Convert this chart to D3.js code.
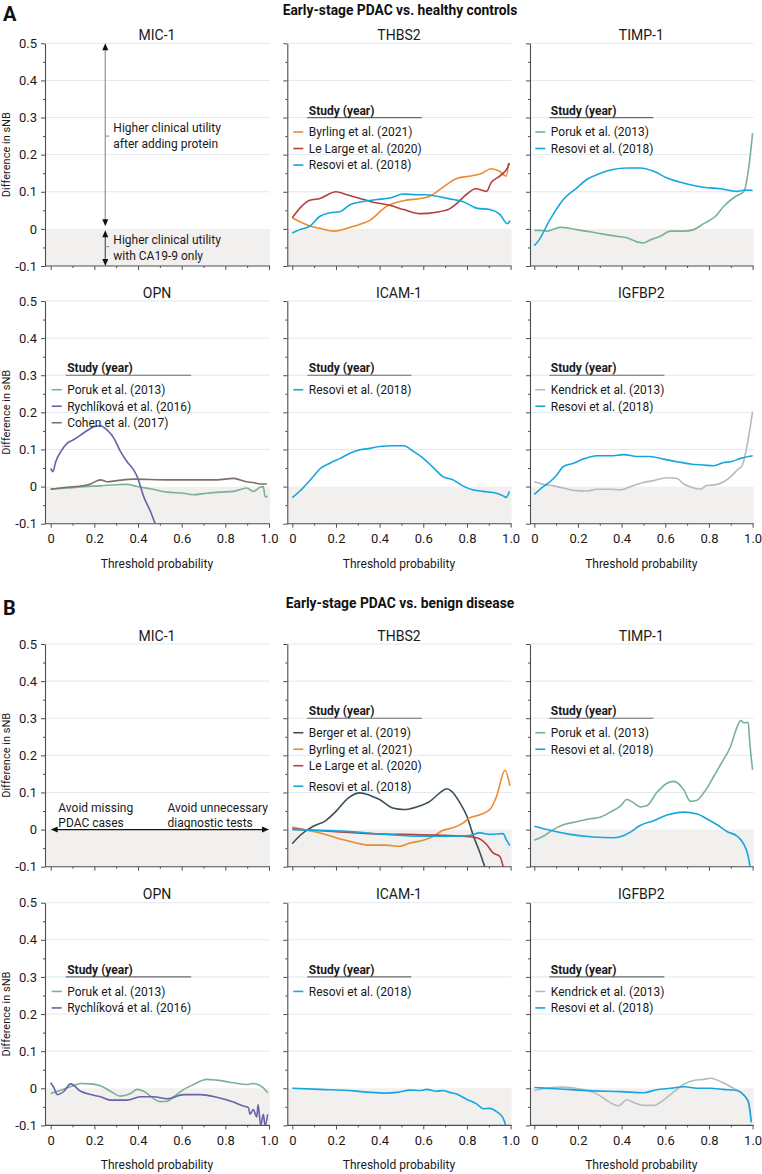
<!DOCTYPE html>
<html><head><meta charset="utf-8">
<script src="https://cdn.jsdelivr.net/npm/d3@7"></script>
<style>
body{margin:0;background:#fff;}
svg{display:block;font-family:Roboto,'Noto Sans',sans-serif;}
</style>
</head><body>
<svg id="chart" width="762" height="1174"></svg>
<script>
// ---------- tick labels ----------
const yTickValues = [-0.1, 0, 0.1, 0.2, 0.3, 0.4, 0.5];
const yTickLabels = ["-0.1", "0", "0.1", "0.2", "0.3", "0.4", "0.5"];
const xTickValues = [0, 0.2, 0.4, 0.6, 0.8, 1.0];
const xTickLabels = ["0", "0.2", "0.4", "0.6", "0.8", "1.0"];
const yMinorValues = [-0.05, 0.05, 0.15, 0.25, 0.35, 0.45];
const xMinorValues = [0.1, 0.3, 0.5, 0.7, 0.9];

// ---------- panel A: early-stage PDAC vs healthy controls ----------
const thbs2A_byrling = [[0,0.03],[0.04,0.018],[0.08,0.008],[0.13,0.001],[0.19,-0.006],[0.28,0.007],[0.36,0.025],[0.43,0.06],[0.51,0.076],[0.6,0.083],[0.63,0.088],[0.69,0.112],[0.75,0.135],[0.81,0.142],[0.87,0.15],[0.91,0.162],[0.95,0.155],[0.98,0.142],[0.99,0.177]];
const thbs2A_lelarge = [[0,0.03],[0.035,0.056],[0.08,0.077],[0.127,0.082],[0.2,0.1],[0.25,0.092],[0.31,0.082],[0.356,0.074],[0.45,0.063],[0.51,0.052],[0.585,0.041],[0.66,0.045],[0.72,0.054],[0.75,0.067],[0.8,0.094],[0.84,0.108],[0.89,0.101],[0.91,0.124],[0.95,0.142],[0.985,0.164],[0.995,0.177]];
const thbs2A_resovi = [[0,-0.011],[0.035,-0.002],[0.08,0.007],[0.127,0.034],[0.17,0.043],[0.22,0.047],[0.264,0.065],[0.325,0.074],[0.386,0.079],[0.447,0.083],[0.508,0.094],[0.57,0.092],[0.615,0.092],[0.66,0.088],[0.737,0.079],[0.78,0.074],[0.844,0.056],[0.905,0.052],[0.951,0.039],[0.985,0.014],[0.997,0.022]];
const timp1A_poruk = [[0,-0.004],[0.026,-0.004],[0.057,-0.006],[0.118,0.004],[0.194,-0.002],[0.286,-0.011],[0.378,-0.02],[0.424,-0.024],[0.47,-0.035],[0.5,-0.038],[0.53,-0.03],[0.577,-0.02],[0.623,-0.006],[0.686,-0.006],[0.73,-0.002],[0.776,0.014],[0.83,0.034],[0.868,0.061],[0.923,0.088],[0.96,0.101],[0.983,0.168],[1.0,0.258]];
const timp1A_resovi = [[0,-0.045],[0.018,-0.033],[0.072,0.025],[0.133,0.079],[0.194,0.11],[0.24,0.133],[0.3,0.149],[0.36,0.16],[0.424,0.164],[0.485,0.164],[0.547,0.155],[0.608,0.137],[0.7,0.121],[0.776,0.112],[0.853,0.108],[0.93,0.101],[0.96,0.104],[1.0,0.104]];
const opnA_poruk = [[0,-0.007],[0.076,-0.004],[0.152,0],[0.228,0.002],[0.304,0.005],[0.35,0.006],[0.396,0],[0.457,-0.006],[0.533,-0.015],[0.61,-0.018],[0.654,-0.022],[0.715,-0.018],[0.776,-0.015],[0.837,-0.013],[0.898,-0.004],[0.928,-0.013],[0.959,-0.002],[0.974,0],[0.982,-0.027],[0.994,-0.027]];
const opnA_rychlikova = [[0,0.049],[0.01,0.04],[0.023,0.067],[0.046,0.094],[0.076,0.117],[0.107,0.127],[0.152,0.145],[0.198,0.161],[0.228,0.164],[0.259,0.152],[0.29,0.13],[0.32,0.094],[0.35,0.067],[0.38,0.045],[0.396,0.027],[0.426,-0.027],[0.457,-0.067],[0.479,-0.101],[0.49,-0.12]];
const opnA_cohen = [[0,-0.007],[0.076,-0.002],[0.152,0.003],[0.183,0.007],[0.213,0.016],[0.228,0.018],[0.259,0.013],[0.304,0.016],[0.38,0.02],[0.533,0.018],[0.685,0.018],[0.76,0.018],[0.837,0.022],[0.868,0.018],[0.898,0.013],[0.928,0.011],[0.959,0.007],[0.974,0.007],[0.99,0.007]];
const icam1A_resovi = [[0,-0.03],[0.035,-0.012],[0.066,0.007],[0.096,0.027],[0.127,0.048],[0.172,0.063],[0.219,0.076],[0.264,0.09],[0.31,0.099],[0.356,0.103],[0.4,0.108],[0.46,0.11],[0.51,0.11],[0.557,0.094],[0.6,0.076],[0.646,0.051],[0.69,0.027],[0.737,0.018],[0.78,0.002],[0.83,-0.009],[0.875,-0.013],[0.936,-0.018],[0.966,-0.025],[0.98,-0.029],[0.994,-0.013]];
const igfbp2A_kendrick = [[0,0.013],[0.041,0.006],[0.087,0.002],[0.133,-0.004],[0.194,-0.011],[0.24,-0.012],[0.286,-0.007],[0.348,-0.007],[0.394,-0.009],[0.455,0.003],[0.5,0.011],[0.547,0.016],[0.608,0.024],[0.654,0.022],[0.685,0.007],[0.73,-0.004],[0.76,-0.007],[0.79,0.003],[0.82,0.004],[0.868,0.013],[0.9,0.027],[0.93,0.045],[0.953,0.058],[0.975,0.112],[1.0,0.202]];
const igfbp2A_resovi = [[0,-0.021],[0.041,0],[0.072,0.013],[0.103,0.031],[0.133,0.054],[0.18,0.063],[0.225,0.074],[0.286,0.083],[0.348,0.083],[0.41,0.086],[0.47,0.081],[0.53,0.081],[0.593,0.074],[0.654,0.067],[0.715,0.061],[0.776,0.058],[0.822,0.056],[0.868,0.065],[0.9,0.067],[0.945,0.076],[1.0,0.083]];

// ---------- panel B: early-stage PDAC vs benign disease ----------
const thbs2B_berger = [[0,-0.038],[0.035,-0.016],[0.096,0.009],[0.15,0.023],[0.2,0.049],[0.256,0.085],[0.31,0.099],[0.356,0.092],[0.4,0.081],[0.46,0.058],[0.51,0.054],[0.57,0.061],[0.63,0.076],[0.676,0.099],[0.707,0.11],[0.73,0.103],[0.768,0.072],[0.8,0.036],[0.83,-0.018],[0.86,-0.063],[0.882,-0.1],[0.89,-0.11]];
const thbs2B_byrling = [[0,0.007],[0.05,0],[0.127,-0.009],[0.2,-0.022],[0.28,-0.034],[0.356,-0.042],[0.43,-0.042],[0.49,-0.045],[0.54,-0.036],[0.6,-0.029],[0.646,-0.018],[0.69,-0.002],[0.737,0.005],[0.783,0.018],[0.81,0.031],[0.86,0.04],[0.905,0.054],[0.936,0.09],[0.974,0.16],[0.997,0.118]];
const thbs2B_lelarge = [[0,0.002],[0.096,-0.002],[0.2,-0.006],[0.356,-0.011],[0.51,-0.013],[0.66,-0.015],[0.783,-0.018],[0.844,-0.022],[0.89,-0.04],[0.92,-0.063],[0.95,-0.072],[0.966,-0.1],[0.97,-0.11]];
const thbs2B_resovi = [[0,0],[0.127,-0.002],[0.28,-0.006],[0.43,-0.013],[0.585,-0.018],[0.737,-0.018],[0.81,-0.016],[0.86,-0.009],[0.905,-0.013],[0.966,-0.011],[0.98,-0.027],[0.997,-0.043]];
const timp1B_poruk = [[0,-0.029],[0.041,-0.018],[0.087,0],[0.133,0.013],[0.194,0.021],[0.256,0.029],[0.3,0.033],[0.348,0.047],[0.394,0.063],[0.424,0.081],[0.455,0.072],[0.485,0.061],[0.515,0.064],[0.56,0.099],[0.608,0.125],[0.64,0.13],[0.685,0.107],[0.715,0.076],[0.746,0.079],[0.776,0.099],[0.822,0.143],[0.853,0.175],[0.899,0.224],[0.93,0.278],[0.945,0.294],[0.96,0.288],[0.98,0.289],[0.986,0.242],[1.0,0.161]];
const timp1B_resovi = [[0,0.009],[0.072,-0.002],[0.164,-0.013],[0.27,-0.02],[0.363,-0.022],[0.41,-0.016],[0.44,-0.007],[0.485,0.011],[0.547,0.024],[0.608,0.039],[0.685,0.047],[0.746,0.042],[0.79,0.029],[0.838,0.013],[0.884,-0.006],[0.93,-0.018],[0.96,-0.04],[0.98,-0.072],[0.988,-0.1],[0.99,-0.11]];
const opnB_poruk = [[0,-0.014],[0.046,-0.005],[0.091,0.004],[0.137,0.013],[0.183,0.012],[0.228,0.007],[0.274,-0.008],[0.32,-0.021],[0.365,-0.014],[0.396,-0.003],[0.426,-0.008],[0.472,-0.028],[0.5,-0.036],[0.533,-0.035],[0.563,-0.023],[0.61,-0.003],[0.654,0.01],[0.715,0.024],[0.76,0.022],[0.837,0.015],[0.898,0.01],[0.928,0.013],[0.974,0.001],[0.994,-0.012]];
const opnB_rychlikova = [[0,0.015],[0.015,0.001],[0.03,-0.017],[0.061,-0.008],[0.091,0.012],[0.137,-0.008],[0.183,-0.017],[0.228,-0.023],[0.274,-0.032],[0.35,-0.032],[0.41,-0.023],[0.472,-0.023],[0.533,-0.028],[0.61,-0.017],[0.685,-0.017],[0.76,-0.024],[0.837,-0.037],[0.883,-0.048],[0.906,-0.052],[0.913,-0.07],[0.928,-0.057],[0.944,-0.077],[0.95,-0.044],[0.962,-0.1],[0.974,-0.07],[0.982,-0.1],[0.994,-0.07]];
const icam1B_resovi = [[0,0],[0.127,-0.003],[0.28,-0.007],[0.356,-0.011],[0.43,-0.013],[0.48,-0.011],[0.54,-0.005],[0.585,-0.006],[0.615,-0.003],[0.66,-0.008],[0.69,-0.006],[0.72,-0.011],[0.75,-0.015],[0.8,-0.03],[0.844,-0.042],[0.875,-0.055],[0.905,-0.054],[0.936,-0.063],[0.966,-0.081],[0.977,-0.1],[0.98,-0.11]];
const igfbp2B_kendrick = [[0,-0.006],[0.057,0],[0.133,0.003],[0.225,-0.004],[0.286,-0.015],[0.33,-0.032],[0.386,-0.047],[0.424,-0.031],[0.455,-0.038],[0.5,-0.046],[0.547,-0.046],[0.593,-0.031],[0.64,-0.009],[0.685,0.011],[0.73,0.021],[0.776,0.024],[0.807,0.027],[0.853,0.018],[0.9,0.004],[0.945,-0.012],[0.976,-0.031],[0.994,-0.09]];
const igfbp2B_resovi = [[0,0.002],[0.118,-0.002],[0.27,-0.007],[0.394,-0.009],[0.5,-0.012],[0.56,-0.004],[0.623,0],[0.685,0.004],[0.746,0],[0.807,0],[0.868,-0.003],[0.93,-0.006],[0.96,-0.018],[0.983,-0.04],[0.994,-0.092]];

// ---------- studies / colours ----------
const studyNames = {
  berger: "Berger et al. (2019)", byrling: "Byrling et al. (2021)", lelarge: "Le Large et al. (2020)",
  resovi: "Resovi et al. (2018)", poruk: "Poruk et al. (2013)", rychlikova: "Rychlíková et al. (2016)",
  cohen: "Cohen et al. (2017)", kendrick: "Kendrick et al. (2013)"
};
const studyColors = {
  berger: "#3b4f56", byrling: "#eb8b30", lelarge: "#b3403c", resovi: "#14a6de",
  poruk: "#78b296", rychlikova: "#6a61a8", cohen: "#7d6f69", kendrick: "#b7bbbc"
};

const sectionLetters = ["A", "B"];
const sectionTitles = ["Early-stage PDAC vs. healthy controls", "Early-stage PDAC vs. benign disease"];

const panels = [
  {row:0, col:0, title:"MIC-1", series:[]},
  {row:0, col:1, title:"THBS2", series:[["byrling",thbs2A_byrling],["lelarge",thbs2A_lelarge],["resovi",thbs2A_resovi]]},
  {row:0, col:2, title:"TIMP-1", series:[["poruk",timp1A_poruk],["resovi",timp1A_resovi]]},
  {row:1, col:0, title:"OPN", series:[["poruk",opnA_poruk],["rychlikova",opnA_rychlikova],["cohen",opnA_cohen]]},
  {row:1, col:1, title:"ICAM-1", series:[["resovi",icam1A_resovi]]},
  {row:1, col:2, title:"IGFBP2", series:[["kendrick",igfbp2A_kendrick],["resovi",igfbp2A_resovi]]},
  {row:2, col:0, title:"MIC-1", series:[]},
  {row:2, col:1, title:"THBS2", series:[["berger",thbs2B_berger],["byrling",thbs2B_byrling],["lelarge",thbs2B_lelarge],["resovi",thbs2B_resovi]], extraGap:[0,0,0,4]},
  {row:2, col:2, title:"TIMP-1", series:[["poruk",timp1B_poruk],["resovi",timp1B_resovi]]},
  {row:3, col:0, title:"OPN", series:[["poruk",opnB_poruk],["rychlikova",opnB_rychlikova]]},
  {row:3, col:1, title:"ICAM-1", series:[["resovi",icam1B_resovi]]},
  {row:3, col:2, title:"IGFBP2", series:[["kendrick",igfbp2B_kendrick],["resovi",igfbp2B_resovi]]}
];

// ---------- layout ----------
const colLeft = [45, 287.3, 530];
const colX0 = [50.7, 292.3, 534.3];
const plotW = 218.3;
const rowTop = [43.3, 301, 644, 902.7];
const plotH = 222.7;
const axisColor = "#4d4d4d";

const svg = d3.select("#chart");

// section headers
[0, 1].forEach(i => {
  const base = i === 0 ? 0 : 593.5;
  svg.append("text").attr("x", 3).attr("y", base + 21).attr("font-size", 20).attr("font-weight", 700)
    .attr("fill", "#111").text(sectionLetters[i]);
  svg.append("text").attr("x", 400).attr("y", base + 14.5).attr("text-anchor", "middle")
    .attr("font-size", 13.8).attr("font-weight", 700).attr("fill", "#111").text(sectionTitles[i]);
});

const fmt = v => yTickLabels[yTickValues.indexOf(v)];
const fmtX = v => xTickLabels[xTickValues.indexOf(v)];

panels.forEach((p, pi) => {
  const left = colLeft[p.col], x0 = colX0[p.col], x1 = x0 + plotW;
  const top = rowTop[p.row], bottom = top + plotH;
  const x = d3.scaleLinear().domain([0, 1]).range([x0, x1]);
  const y = d3.scaleLinear().domain([-0.1, 0.5]).range([bottom, top]);
  const g = svg.append("g");

  // shaded negative region
  g.append("rect").attr("x", left).attr("y", y(0)).attr("width", x1 + 1 - left)
    .attr("height", y(-0.1) - y(0)).attr("fill", "#f1f0ef");
  // grid
  g.selectAll("line.grid").data(yTickValues.filter(v => v > 0)).join("line")
    .attr("x1", left).attr("x2", x1 + 1).attr("y1", d => y(d)).attr("y2", d => y(d))
    .attr("stroke", "#dfeaef").attr("stroke-width", 1);

  // y axis (major)
  const ya = g.append("g").attr("transform", `translate(${left},0)`)
    .call(d3.axisLeft(y).tickValues(yTickValues).tickSize(4).tickSizeOuter(0).tickPadding(4)
      .tickFormat(p.col === 0 ? fmt : () => ""));
  ya.select(".domain").attr("stroke", axisColor).attr("stroke-width", 1.1);
  ya.selectAll(".tick line").attr("stroke", axisColor);
  ya.selectAll(".tick text").attr("font-size", 13).attr("fill", "#1a1a1a").attr("font-family", "Roboto");
  // y minor
  const ym = g.append("g").attr("transform", `translate(${left},0)`)
    .call(d3.axisLeft(y).tickValues(yMinorValues).tickSize(2).tickFormat(() => ""));
  ym.select(".domain").remove();
  ym.selectAll(".tick line").attr("stroke", axisColor);

  // x axis baseline
  g.append("line").attr("x1", left).attr("x2", x1 + 1).attr("y1", bottom).attr("y2", bottom)
    .attr("stroke", axisColor).attr("stroke-width", 1.1);
  const showX = p.row === 1 || p.row === 3;
  const xa = g.append("g").attr("transform", `translate(0,${bottom})`)
    .call(d3.axisBottom(x).tickValues(xTickValues).tickSize(4).tickPadding(6)
      .tickFormat(showX ? fmtX : () => ""));
  xa.select(".domain").remove();
  xa.selectAll(".tick line").attr("stroke", axisColor);
  xa.selectAll(".tick text").attr("font-size", 13).attr("fill", "#1a1a1a").attr("font-family", "Roboto");
  const xm = g.append("g").attr("transform", `translate(0,${bottom})`)
    .call(d3.axisBottom(x).tickValues(xMinorValues).tickSize(2).tickFormat(() => ""));
  xm.select(".domain").remove();
  xm.selectAll(".tick line").attr("stroke", axisColor);

  if (showX) {
    g.append("text").attr("x", (left + x1) / 2).attr("y", bottom + 44).attr("text-anchor", "middle")
      .attr("font-size", 12).attr("fill", "#1a1a1a").text("Threshold probability");
  }
  if (p.col === 0) {
    g.append("text").attr("transform", `translate(9.5,${(top + bottom) / 2}) rotate(-90)`)
      .attr("text-anchor", "middle").attr("font-size", 11).attr("fill", "#1a1a1a").text("Difference in sNB");
  }
  // panel title
  g.append("text").attr("x", (left + x1) / 2).attr("y", top - 3.5).attr("text-anchor", "middle")
    .attr("font-size", 14).attr("fill", "#1a1a1a").text(p.title);

  // clip + lines
  const cid = "clip" + pi;
  svg.append("clipPath").attr("id", cid).append("rect")
    .attr("x", left).attr("y", top - 2).attr("width", x1 + 2 - left).attr("height", plotH + 2);
  const line = d3.line().x(d => x(d[0])).y(d => y(d[1])).curve(d3.curveMonotoneX);
  const lg = g.append("g").attr("clip-path", `url(#${cid})`);
  p.series.forEach(([key, data]) => {
    lg.append("path").datum(data).attr("d", line).attr("fill", "none")
      .attr("stroke", studyColors[key]).attr("stroke-width", 1.6).attr("stroke-linejoin", "round");
  });

  // legend
  if (p.series.length) {
    const ly = y(0.3);
    const ul = g.append("line");
    const hdr = g.append("text").attr("x", x0 + 16.5).attr("y", ly - 3).attr("font-size", 12)
      .attr("font-weight", 700).attr("fill", "#1a1a1a").text("Study (year)");
    let maxR = x0 + 16.5 + hdr.node().getComputedTextLength();
    let cy = ly + 14.5;
    p.series.forEach(([key], i) => {
      if (p.extraGap) cy += p.extraGap[i];
      g.append("line").attr("x1", x0 + 1).attr("x2", x0 + 11).attr("y1", cy).attr("y2", cy)
        .attr("stroke", studyColors[key]).attr("stroke-width", 1.6);
      const t = g.append("text").attr("x", x0 + 16.5).attr("y", cy + 4.3).attr("font-size", 12)
        .attr("fill", "#1a1a1a").text(studyNames[key]);
      maxR = Math.max(maxR, x0 + 16.5 + t.node().getComputedTextLength());
      cy += 16.5;
    });
    ul.attr("x1", x0 + 15).attr("x2", maxR).attr("y1", ly).attr("y2", ly)
      .attr("stroke", "#6b6b6b").attr("stroke-width", 1.2);
  }

  // annotations
  const tri = (px, py, dir, color) => {
    const s = 3, h = 7;
    let d;
    if (dir === "up") d = `M${px},${py}L${px - s},${py + h}L${px + s},${py + h}Z`;
    if (dir === "down") d = `M${px},${py}L${px - s},${py - h}L${px + s},${py - h}Z`;
    if (dir === "left") d = `M${px},${py}L${px + h},${py - s}L${px + h},${py + s}Z`;
    if (dir === "right") d = `M${px},${py}L${px - h},${py - s}L${px - h},${py + s}Z`;
    g.append("path").attr("d", d).attr("fill", color || "#111");
  };
  if (p.row === 0 && p.col === 0) {
    const ax = x(0.25);
    g.append("line").attr("x1", ax).attr("x2", ax).attr("y1", y(0.5) + 3).attr("y2", y(0.007) - 3)
      .attr("stroke", "#9a9a9a").attr("stroke-width", 1.3);
    tri(ax, y(0.5), "up"); tri(ax, y(0.007), "down");
    g.append("line").attr("x1", ax).attr("x2", ax).attr("y1", y(-0.004) + 3).attr("y2", y(-0.1) - 3)
      .attr("stroke", "#555").attr("stroke-width", 1.2);
    tri(ax, y(-0.004), "up"); tri(ax, y(-0.1), "down");
    g.append("line").attr("x1", ax).attr("x2", ax + 4).attr("y1", y(0.25)).attr("y2", y(0.25)).attr("stroke", "#888");
    g.append("line").attr("x1", ax).attr("x2", ax + 4).attr("y1", y(-0.048)).attr("y2", y(-0.048)).attr("stroke", "#888");
    const tx = x(0.287);
    [["Higher clinical utility", 0.273], ["after adding protein", 0.23],
     ["Higher clinical utility", -0.029], ["with CA19-9 only", -0.071]].forEach(([s, v]) => {
      g.append("text").attr("x", tx).attr("y", y(v) + 4.3).attr("font-size", 12).attr("fill", "#1a1a1a").text(s);
    });
  }
  if (p.row === 2 && p.col === 0) {
    g.append("line").attr("x1", x(0) + 4).attr("x2", x(1) - 4).attr("y1", y(0)).attr("y2", y(0))
      .attr("stroke", "#111").attr("stroke-width", 1.3);
    tri(x(0), y(0), "left"); tri(x(1), y(0), "right");
    [["Avoid missing", 0.035, 0.058], ["PDAC cases", 0.035, 0.018],
     ["Avoid unnecessary", 0.535, 0.058], ["diagnostic tests", 0.535, 0.018]].forEach(([s, xv, v]) => {
      g.append("text").attr("x", x(xv)).attr("y", y(v) + 4.3).attr("font-size", 12).attr("fill", "#1a1a1a").text(s);
    });
  }
});
</script>
</body></html>
